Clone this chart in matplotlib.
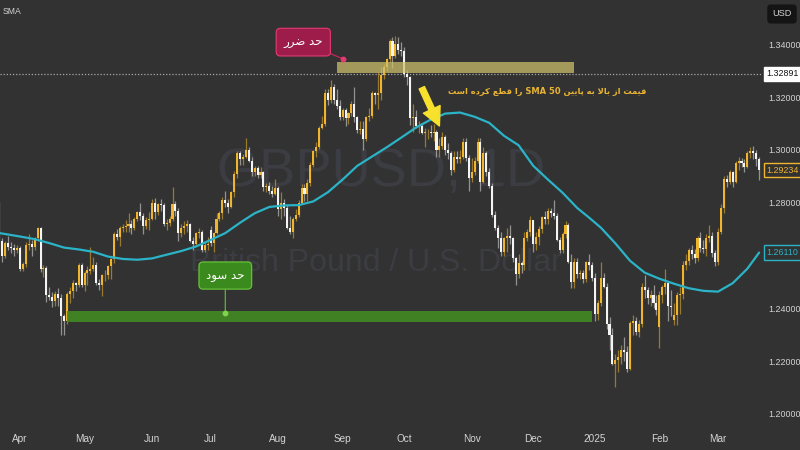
import numpy as np
import pandas as pd
import matplotlib
matplotlib.use("Agg")
import matplotlib.pyplot as plt
from matplotlib.patches import Rectangle
from matplotlib.transforms import blended_transform_factory

# ---------------- data (GBPUSD daily) ----------------
first_day = "2024-03-21"
last_day = "2025-03-21"
closed_days = ["2024-12-25", "2025-01-01"]

opens = [
    1.2735, 1.2655, 1.2598, 1.2646, 1.2633, 1.2627, 1.2622,
    1.2630, 1.2548, 1.2566, 1.2640, 1.2642, 1.2634, 1.2666, 1.2705, 1.2550, 1.2553, 1.2450, 1.2443, 1.2427, 1.2455, 1.2437, 1.2370, 1.2350, 1.2455, 1.2465, 1.2495, 1.2490, 1.2565,
    1.2490, 1.2535, 1.2540, 1.2547, 1.2565, 1.2495, 1.2490, 1.2525, 1.2526, 1.2560, 1.2585, 1.2680, 1.2670, 1.2705, 1.2708, 1.2710, 1.2720, 1.2705, 1.2740, 1.2765, 1.2750, 1.2710, 1.2735,
    1.2740, 1.2800, 1.2765, 1.2795, 1.2790, 1.2720, 1.2725, 1.2740, 1.2795, 1.2770, 1.2685, 1.2705, 1.2710, 1.2720, 1.2655, 1.2645, 1.2685, 1.2690, 1.2620, 1.2640,
    1.2695, 1.2648, 1.2685, 1.2740, 1.2760, 1.2810, 1.2800, 1.2785, 1.2840, 1.2910, 1.2990, 1.2965, 1.2975, 1.3000, 1.2960, 1.2915, 1.2930, 1.2905, 1.2915, 1.2860, 1.2865, 1.2845, 1.2835,
    1.2855, 1.2775, 1.2800, 1.2780, 1.2705, 1.2690, 1.2740, 1.2755, 1.2800, 1.2855, 1.2835, 1.2875, 1.2945, 1.2995, 1.3010, 1.3085, 1.3100, 1.3215, 1.3190, 1.3240, 1.3190, 1.3165,
    1.3125, 1.3150, 1.3120, 1.3140, 1.3175, 1.3125, 1.3075, 1.3080, 1.3040, 1.3125, 1.3128, 1.3215, 1.3210, 1.3215, 1.3285, 1.3315, 1.3345, 1.3415, 1.3355, 1.3400, 1.3380,
    1.3375, 1.3290, 1.3275, 1.3120, 1.3125, 1.3090, 1.3092, 1.3065, 1.3068, 1.3070, 1.3065, 1.3070, 1.3000, 1.3015, 1.3050, 1.3000, 1.2990, 1.2925, 1.2975, 1.2965, 1.2975, 1.3030, 1.2970,
    1.2895, 1.2915, 1.2960, 1.3030, 1.2880, 1.2990, 1.2915, 1.2865, 1.2755, 1.2705, 1.2665, 1.2615, 1.2665, 1.2675, 1.2665, 1.2590, 1.2530, 1.2570, 1.2565, 1.2665, 1.2690,
    1.2735, 1.2645, 1.2670, 1.2700, 1.2745, 1.2740, 1.2770, 1.2760, 1.2750, 1.2660, 1.2620, 1.2680, 1.2715, 1.2575, 1.2500, 1.2575, 1.2530, 1.2532, 1.2510, 1.2575, 1.2565,
    1.2515, 1.2380, 1.2420, 1.2515, 1.2480, 1.2340, 1.2300, 1.2190, 1.2205, 1.2215, 1.2240, 1.2235, 1.2170, 1.2345, 1.2350, 1.2310, 1.2340, 1.2480, 1.2470, 1.2440, 1.2450, 1.2420,
    1.2330, 1.2450, 1.2480, 1.2495, 1.2410, 1.2355, 1.2375, 1.2450, 1.2455, 1.2565, 1.2580, 1.2620, 1.2605, 1.2590, 1.2665, 1.2630, 1.2625, 1.2665, 1.2675, 1.2610,
    1.2575, 1.2690, 1.2780, 1.2890, 1.2880, 1.2915, 1.2880, 1.2950, 1.2960, 1.2950, 1.2935, 1.2990, 1.2995, 1.2990, 1.2965,
]
highs = [
    1.2803, 1.2665, 1.2655, 1.2675, 1.2650, 1.2645, 1.2640,
    1.2635, 1.2575, 1.2651, 1.2683, 1.2660, 1.2672, 1.2709, 1.2709, 1.2565, 1.2562, 1.2482, 1.2460, 1.2465, 1.2475, 1.2455, 1.2380, 1.2460, 1.2480, 1.2509, 1.2500, 1.2570, 1.2570,
    1.2540, 1.2560, 1.2634, 1.2594, 1.2575, 1.2510, 1.2530, 1.2545, 1.2565, 1.2590, 1.2690, 1.2700, 1.2710, 1.2720, 1.2735, 1.2760, 1.2735, 1.2745, 1.2770, 1.2800, 1.2760, 1.2745, 1.2765,
    1.2815, 1.2818, 1.2800, 1.2815, 1.2800, 1.2740, 1.2750, 1.2860, 1.2805, 1.2780, 1.2720, 1.2730, 1.2735, 1.2725, 1.2670, 1.2690, 1.2705, 1.2695, 1.2650, 1.2670,
    1.2710, 1.2690, 1.2760, 1.2770, 1.2820, 1.2845, 1.2815, 1.2845, 1.2920, 1.2995, 1.2995, 1.2985, 1.3044, 1.3010, 1.2975, 1.2940, 1.2940, 1.2935, 1.2920, 1.2875, 1.2880, 1.2865, 1.2890,
    1.2865, 1.2840, 1.2815, 1.2790, 1.2750, 1.2745, 1.2775, 1.2810, 1.2870, 1.2870, 1.2890, 1.2955, 1.3000, 1.3030, 1.3090, 1.3130, 1.3230, 1.3230, 1.3265, 1.3250, 1.3230, 1.3190,
    1.3160, 1.3160, 1.3145, 1.3185, 1.3239, 1.3130, 1.3110, 1.3110, 1.3130, 1.3160, 1.3225, 1.3220, 1.3297, 1.3315, 1.3325, 1.3350, 1.3420, 1.3430, 1.3434, 1.3430, 1.3410,
    1.3390, 1.3305, 1.3280, 1.3175, 1.3150, 1.3110, 1.3100, 1.3085, 1.3080, 1.3095, 1.3100, 1.3075, 1.3045, 1.3070, 1.3055, 1.3025, 1.2995, 1.2995, 1.2995, 1.3000, 1.3045, 1.3045, 1.2980,
    1.2970, 1.2975, 1.3045, 1.3045, 1.3010, 1.2995, 1.2930, 1.2875, 1.2770, 1.2715, 1.2690, 1.2670, 1.2705, 1.2715, 1.2670, 1.2595, 1.2605, 1.2580, 1.2690, 1.2700, 1.2750,
    1.2735, 1.2690, 1.2710, 1.2750, 1.2770, 1.2780, 1.2780, 1.2810, 1.2760, 1.2670, 1.2690, 1.2730, 1.2725, 1.2605, 1.2590, 1.2590, 1.2545, 1.2545, 1.2580, 1.2605, 1.2575,
    1.2535, 1.2430, 1.2575, 1.2535, 1.2495, 1.2365, 1.2325, 1.2225, 1.2240, 1.2260, 1.2290, 1.2255, 1.2350, 1.2375, 1.2365, 1.2355, 1.2495, 1.2525, 1.2480, 1.2470, 1.2490, 1.2450,
    1.2465, 1.2490, 1.2550, 1.2505, 1.2470, 1.2420, 1.2460, 1.2480, 1.2580, 1.2605, 1.2630, 1.2640, 1.2625, 1.2675, 1.2690, 1.2660, 1.2680, 1.2715, 1.2690, 1.2620,
    1.2705, 1.2795, 1.2900, 1.2905, 1.2925, 1.2920, 1.2960, 1.2975, 1.2970, 1.2965, 1.2995, 1.3010, 1.3015, 1.3000, 1.2975,
]
lows = [
    1.2620, 1.2575, 1.2590, 1.2620, 1.2610, 1.2600, 1.2610,
    1.2540, 1.2540, 1.2555, 1.2620, 1.2600, 1.2620, 1.2655, 1.2538, 1.2520, 1.2425, 1.2432, 1.2405, 1.2410, 1.2410, 1.2300, 1.2299, 1.2340, 1.2420, 1.2440, 1.2465, 1.2480, 1.2480,
    1.2465, 1.2490, 1.2530, 1.2540, 1.2490, 1.2470, 1.2445, 1.2505, 1.2510, 1.2510, 1.2570, 1.2660, 1.2635, 1.2690, 1.2690, 1.2690, 1.2680, 1.2695, 1.2730, 1.2735, 1.2680, 1.2700, 1.2695,
    1.2735, 1.2740, 1.2755, 1.2770, 1.2710, 1.2695, 1.2710, 1.2730, 1.2750, 1.2655, 1.2670, 1.2680, 1.2690, 1.2650, 1.2620, 1.2640, 1.2665, 1.2612, 1.2615, 1.2620,
    1.2635, 1.2615, 1.2680, 1.2730, 1.2740, 1.2785, 1.2760, 1.2780, 1.2820, 1.2895, 1.2945, 1.2945, 1.2970, 1.2955, 1.2900, 1.2900, 1.2895, 1.2895, 1.2845, 1.2840, 1.2835, 1.2820, 1.2830,
    1.2750, 1.2740, 1.2750, 1.2700, 1.2680, 1.2665, 1.2730, 1.2745, 1.2795, 1.2805, 1.2805, 1.2865, 1.2935, 1.2975, 1.3005, 1.3080, 1.3090, 1.3170, 1.3180, 1.3175, 1.3155, 1.3115,
    1.3115, 1.3090, 1.3100, 1.3130, 1.3105, 1.3065, 1.3060, 1.3001, 1.3035, 1.3110, 1.3120, 1.3175, 1.3155, 1.3190, 1.3270, 1.3300, 1.3335, 1.3310, 1.3350, 1.3365, 1.3355,
    1.3275, 1.3245, 1.3095, 1.3070, 1.3085, 1.3065, 1.3060, 1.3010, 1.3040, 1.3050, 1.3035, 1.2975, 1.2975, 1.3005, 1.2980, 1.2965, 1.2905, 1.2915, 1.2950, 1.2950, 1.2965, 1.2960, 1.2845,
    1.2880, 1.2905, 1.2950, 1.2845, 1.2875, 1.2900, 1.2855, 1.2745, 1.2695, 1.2630, 1.2600, 1.2600, 1.2615, 1.2645, 1.2575, 1.2487, 1.2515, 1.2535, 1.2545, 1.2655, 1.2675,
    1.2615, 1.2620, 1.2640, 1.2685, 1.2720, 1.2720, 1.2745, 1.2740, 1.2655, 1.2610, 1.2610, 1.2665, 1.2570, 1.2475, 1.2475, 1.2515, 1.2510, 1.2495, 1.2500, 1.2545, 1.2505,
    1.2350, 1.2355, 1.2410, 1.2475, 1.2320, 1.2240, 1.2185, 1.2100, 1.2160, 1.2190, 1.2200, 1.2160, 1.2165, 1.2300, 1.2300, 1.2290, 1.2330, 1.2440, 1.2415, 1.2410, 1.2400, 1.2375,
    1.2250, 1.2420, 1.2455, 1.2350, 1.2370, 1.2335, 1.2335, 1.2380, 1.2435, 1.2545, 1.2565, 1.2585, 1.2570, 1.2580, 1.2615, 1.2610, 1.2600, 1.2650, 1.2595, 1.2560,
    1.2565, 1.2680, 1.2760, 1.2860, 1.2870, 1.2860, 1.2875, 1.2925, 1.2935, 1.2915, 1.2930, 1.2970, 1.2965, 1.2940, 1.2885,
]
closes = [
    1.2655, 1.2598, 1.2646, 1.2633, 1.2627, 1.2622, 1.2630,
    1.2548, 1.2566, 1.2640, 1.2642, 1.2634, 1.2666, 1.2705, 1.2550, 1.2553, 1.2450, 1.2443, 1.2427, 1.2455, 1.2437, 1.2370, 1.2350, 1.2455, 1.2465, 1.2495, 1.2490, 1.2565, 1.2490,
    1.2535, 1.2545, 1.2547, 1.2565, 1.2495, 1.2490, 1.2525, 1.2526, 1.2560, 1.2585, 1.2680, 1.2670, 1.2705, 1.2708, 1.2710, 1.2720, 1.2705, 1.2740, 1.2765, 1.2750, 1.2710, 1.2735, 1.2740,
    1.2800, 1.2765, 1.2795, 1.2790, 1.2720, 1.2725, 1.2740, 1.2795, 1.2770, 1.2685, 1.2705, 1.2710, 1.2720, 1.2655, 1.2645, 1.2685, 1.2690, 1.2620, 1.2640, 1.2645,
    1.2648, 1.2685, 1.2740, 1.2760, 1.2810, 1.2800, 1.2785, 1.2840, 1.2910, 1.2990, 1.2965, 1.2975, 1.3000, 1.2960, 1.2915, 1.2930, 1.2905, 1.2915, 1.2860, 1.2865, 1.2845, 1.2835, 1.2855,
    1.2775, 1.2800, 1.2780, 1.2705, 1.2690, 1.2740, 1.2755, 1.2800, 1.2855, 1.2835, 1.2875, 1.2945, 1.2995, 1.3010, 1.3085, 1.3100, 1.3215, 1.3190, 1.3240, 1.3190, 1.3165, 1.3125,
    1.3150, 1.3120, 1.3140, 1.3175, 1.3125, 1.3075, 1.3080, 1.3040, 1.3125, 1.3128, 1.3215, 1.3210, 1.3215, 1.3285, 1.3315, 1.3345, 1.3415, 1.3355, 1.3400, 1.3380, 1.3375,
    1.3290, 1.3275, 1.3120, 1.3125, 1.3090, 1.3092, 1.3065, 1.3068, 1.3070, 1.3065, 1.3070, 1.3000, 1.3015, 1.3050, 1.3000, 1.2990, 1.2925, 1.2975, 1.2965, 1.2975, 1.3030, 1.2970, 1.2895,
    1.2915, 1.2960, 1.3030, 1.2880, 1.2990, 1.2915, 1.2865, 1.2755, 1.2705, 1.2665, 1.2615, 1.2665, 1.2675, 1.2665, 1.2590, 1.2530, 1.2570, 1.2565, 1.2665, 1.2690, 1.2735,
    1.2645, 1.2670, 1.2700, 1.2745, 1.2740, 1.2770, 1.2760, 1.2750, 1.2660, 1.2620, 1.2680, 1.2715, 1.2575, 1.2500, 1.2575, 1.2530, 1.2532, 1.2510, 1.2575, 1.2565, 1.2515,
    1.2380, 1.2420, 1.2515, 1.2480, 1.2340, 1.2300, 1.2190, 1.2205, 1.2215, 1.2240, 1.2235, 1.2170, 1.2345, 1.2350, 1.2310, 1.2340, 1.2480, 1.2470, 1.2440, 1.2450, 1.2420, 1.2395,
    1.2450, 1.2480, 1.2495, 1.2410, 1.2405, 1.2375, 1.2450, 1.2455, 1.2565, 1.2580, 1.2620, 1.2605, 1.2590, 1.2665, 1.2630, 1.2625, 1.2665, 1.2675, 1.2610, 1.2575,
    1.2690, 1.2780, 1.2890, 1.2880, 1.2915, 1.2880, 1.2950, 1.2960, 1.2950, 1.2935, 1.2990, 1.2995, 1.2990, 1.2965, 1.29234,
]

# SMA 50 (weekly readings)
sma_dates = [
    "2024-03-21", "2024-04-01", "2024-04-08", "2024-04-15", "2024-04-22", "2024-04-29",
    "2024-05-06", "2024-05-13", "2024-05-20", "2024-05-27", "2024-06-03", "2024-06-10",
    "2024-06-17", "2024-06-24", "2024-07-01", "2024-07-08", "2024-07-15", "2024-07-22",
    "2024-07-29", "2024-08-05", "2024-08-12", "2024-08-19", "2024-08-26", "2024-09-02",
    "2024-09-09", "2024-09-16", "2024-09-23", "2024-09-30", "2024-10-07", "2024-10-14",
    "2024-10-21", "2024-10-28", "2024-11-04", "2024-11-11", "2024-11-18", "2024-11-25",
    "2024-12-02", "2024-12-09", "2024-12-16", "2024-12-23", "2024-12-30", "2025-01-06",
    "2025-01-13", "2025-01-20", "2025-01-27", "2025-02-03", "2025-02-10", "2025-02-17",
    "2025-02-24", "2025-03-03", "2025-03-10", "2025-03-17", "2025-03-21",
]
sma_values = [
    1.2685, 1.2672, 1.2662, 1.2647, 1.2630, 1.2623,
    1.2614, 1.2596, 1.2587, 1.2584, 1.2589, 1.2603,
    1.2617, 1.2634, 1.2659, 1.2685, 1.2724, 1.2760,
    1.2784, 1.2790, 1.2791, 1.2805, 1.2840, 1.2888,
    1.2940, 1.2975, 1.3010, 1.3047, 1.3085, 1.3115,
    1.3138, 1.3142, 1.3126, 1.3103, 1.3054, 1.3018,
    1.2940, 1.2888, 1.2838, 1.2780, 1.2744, 1.2706,
    1.2646, 1.2580, 1.2535, 1.2512, 1.2493, 1.2476,
    1.2466, 1.2463, 1.2495, 1.2550, 1.2611,
]

month_labels = ["Apr", "May", "Jun", "Jul", "Aug", "Sep", "Oct", "Nov", "Dec", "2025", "Feb", "Mar"]
ytick_values = [1.20, 1.22, 1.24, 1.28, 1.30, 1.32, 1.34]
last_price = 1.29234
sma_last = 1.26110
stop_line_price = 1.32891

stop_zone = ("2024-08-29", "2024-12-20", 1.32919, 1.33336)
profit_zone = ("2024-04-23", "2024-12-31", 1.23479, 1.23896)

title_text = "GBPUSD, 1D"
subtitle_text = "British Pound / U.S. Dollar"
stop_label = "حد ضرر"
profit_label = "حد سود"
note_text = "قیمت از بالا به پایین SMA 50 را قطع کرده است"

# ---------------- Persian shaping (presentation forms, visual order) ----------------
FORMS = {
    '\u0627': ('\uFE8D', '\uFE8E', None, None),
    '\u0622': ('\uFE81', '\uFE82', None, None),
    '\u0628': ('\uFE8F', '\uFE90', '\uFE91', '\uFE92'),
    '\u067E': ('\uFB56', '\uFB57', '\uFB58', '\uFB59'),
    '\u062A': ('\uFE95', '\uFE96', '\uFE97', '\uFE98'),
    '\u062B': ('\uFE99', '\uFE9A', '\uFE9B', '\uFE9C'),
    '\u062C': ('\uFE9D', '\uFE9E', '\uFE9F', '\uFEA0'),
    '\u0686': ('\uFB7A', '\uFB7B', '\uFB7C', '\uFB7D'),
    '\u062D': ('\uFEA1', '\uFEA2', '\uFEA3', '\uFEA4'),
    '\u062E': ('\uFEA5', '\uFEA6', '\uFEA7', '\uFEA8'),
    '\u062F': ('\uFEA9', '\uFEAA', None, None),
    '\u0630': ('\uFEAB', '\uFEAC', None, None),
    '\u0631': ('\uFEAD', '\uFEAE', None, None),
    '\u0632': ('\uFEAF', '\uFEB0', None, None),
    '\u0698': ('\uFB8A', '\uFB8B', None, None),
    '\u0633': ('\uFEB1', '\uFEB2', '\uFEB3', '\uFEB4'),
    '\u0634': ('\uFEB5', '\uFEB6', '\uFEB7', '\uFEB8'),
    '\u0635': ('\uFEB9', '\uFEBA', '\uFEBB', '\uFEBC'),
    '\u0636': ('\uFEBD', '\uFEBE', '\uFEBF', '\uFEC0'),
    '\u0637': ('\uFEC1', '\uFEC2', '\uFEC3', '\uFEC4'),
    '\u0638': ('\uFEC5', '\uFEC6', '\uFEC7', '\uFEC8'),
    '\u0639': ('\uFEC9', '\uFECA', '\uFECB', '\uFECC'),
    '\u063A': ('\uFECD', '\uFECE', '\uFECF', '\uFED0'),
    '\u0641': ('\uFED1', '\uFED2', '\uFED3', '\uFED4'),
    '\u0642': ('\uFED5', '\uFED6', '\uFED7', '\uFED8'),
    '\u06A9': ('\uFB8E', '\uFB8F', '\uFB90', '\uFB91'),
    '\u06AF': ('\uFB92', '\uFB93', '\uFB94', '\uFB95'),
    '\u0644': ('\uFEDD', '\uFEDE', '\uFEDF', '\uFEE0'),
    '\u0645': ('\uFEE1', '\uFEE2', '\uFEE3', '\uFEE4'),
    '\u0646': ('\uFEE5', '\uFEE6', '\uFEE7', '\uFEE8'),
    '\u0647': ('\uFEE9', '\uFEEA', '\uFEEB', '\uFEEC'),
    '\u0648': ('\uFEED', '\uFEEE', None, None),
    '\u06CC': ('\uFBFC', '\uFBFD', '\uFBFE', '\uFBFF'),
}


def shape_word(word):
    word = word.replace('\u064A', '\u06CC').replace('\u0643', '\u06A9')
    chars = list(word)
    n = len(chars)
    res = []
    i = 0
    while i < n:
        ch = chars[i]
        prev = chars[i - 1] if i > 0 else None
        joins_prev = prev in FORMS and FORMS[prev][2] is not None
        if ch == '\u0644' and i + 1 < n and chars[i + 1] == '\u0627':
            res.append('\uFEFC' if joins_prev else '\uFEFB')
            i += 2
            continue
        f = FORMS.get(ch)
        if f is None:
            res.append(ch)
            i += 1
            continue
        nxt = chars[i + 1] if i + 1 < n else None
        joins_next = f[2] is not None and nxt in FORMS
        if joins_prev and joins_next:
            res.append(f[3])
        elif joins_prev:
            res.append(f[1])
        elif joins_next:
            res.append(f[2])
        else:
            res.append(f[0])
        i += 1
    return ''.join(reversed(res))


def rtl(text):
    runs = []
    for tok in text.split(' '):
        is_ar = any(ch in FORMS or ch in '\u064A\u0643' for ch in tok)
        if not is_ar and runs and not runs[-1][0]:
            runs[-1][1].append(tok)
        else:
            runs.append((is_ar, [tok]))
    out = []
    for is_ar, toks in reversed(runs):
        out.append(shape_word(toks[0]) if is_ar else ' '.join(toks))
    return ' '.join(out)


# ---------------- styling ----------------
BG = "#323232"
UP = "#EFB52D"
DOWN = "#F4F4F4"
SMA_C = "#2BB3C7"
TXT = "#D4D4D4"
LAT = ["Liberation Sans", "DejaVu Sans"]
AR_FONT = ["DejaVu Sans"]
SCALE_FS = 6.4

dates = pd.bdate_range(first_day, last_day)
dates = dates[~dates.isin(pd.to_datetime(closed_days))]
o = np.array(opens)
h = np.array(highs)
l = np.array(lows)
c = np.array(closes)
n = min(len(dates), len(c))
dates = dates[:n]
o, h, l, c = o[:n], h[:n], l[:n], c[:n]
x = np.arange(n)


def pos(d):
    return float(dates.get_indexer([pd.Timestamp(d)], method="nearest")[0])


fig = plt.figure(figsize=(8, 4.5), dpi=100, facecolor=BG)
ax = fig.add_axes([0, 22 / 450, 763 / 800, 428 / 450], facecolor=BG)
for s in ax.spines.values():
    s.set_visible(False)

# watermark
ax.text(0.50, 0.598, title_text, transform=ax.transAxes, ha="center", va="center",
        fontsize=39, color="#3c3d42", family=LAT, zorder=0)
ax.text(0.492, 0.385, subtitle_text, transform=ax.transAxes, ha="center", va="center",
        fontsize=23, color="#3c3d42", family=LAT, zorder=0)

# candles
up = c >= o
body_lo = np.minimum(o, c)
body_h = np.maximum(np.abs(c - o), 0.00012)
ax.vlines(x[up], l[up], h[up], color=UP, alpha=0.55, lw=0.9, zorder=2)
ax.vlines(x[~up], l[~up], h[~up], color=DOWN, alpha=0.5, lw=0.9, zorder=2)
ax.bar(x[up], body_h[up], bottom=body_lo[up], width=0.7, color=UP, linewidth=0, zorder=3)
ax.bar(x[~up], body_h[~up], bottom=body_lo[~up], width=0.7, color=DOWN, linewidth=0, zorder=3)

# SMA 50
sma_pos = [pos(d) for d in sma_dates]
ax.plot(sma_pos, sma_values, color=SMA_C, lw=1.6, zorder=4, solid_capstyle="round")

# zones
x0, x1 = pos(stop_zone[0]), pos(stop_zone[1])
ax.add_patch(Rectangle((x0, stop_zone[2]), x1 - x0, stop_zone[3] - stop_zone[2],
                       facecolor="#CFC26A", alpha=0.72, edgecolor="none", zorder=5))
x0, x1 = pos(profit_zone[0]), pos(profit_zone[1])
ax.add_patch(Rectangle((x0, profit_zone[2]), x1 - x0, profit_zone[3] - profit_zone[2],
                       facecolor="#428A22", alpha=0.9, edgecolor="none", zorder=5))

# dotted price line
ax.axhline(stop_line_price, color="#A8A8A8", lw=0.9, ls=(0, (1, 1.5)), zorder=1)

# stop loss callout
dot_s = (pos("2024-09-02"), 1.3346)
ax.annotate(rtl(stop_label), xy=dot_s, xytext=(pos("2024-08-13") + 0.6, 1.3409),
            ha="center", va="center", color="white", fontsize=8.5, family=AR_FONT, zorder=8,
            bbox=dict(boxstyle="round,pad=0.62,rounding_size=0.35", fc="#9E1C4A", ec="#D8386E", lw=0.9),
            arrowprops=dict(arrowstyle="-", color="#C9245A", lw=0.9, shrinkA=0, shrinkB=0))
ax.plot(*dot_s, marker="o", ms=3.2, color="#E33A70", zorder=9)

# take profit callout
dot_p = (pos("2024-07-08"), 1.2382)
ax.annotate(rtl(profit_label), xy=dot_p, xytext=(dot_p[0], 1.2524),
            ha="center", va="center", color="white", fontsize=8.5, family=AR_FONT, zorder=8,
            bbox=dict(boxstyle="round,pad=0.6,rounding_size=0.35", fc="#3B8A1D", ec="#66C23A", lw=0.9),
            arrowprops=dict(arrowstyle="-", color="#5DB532", lw=0.9, shrinkA=0, shrinkB=0))
ax.plot(*dot_p, marker="o", ms=3.2, color="#7FD24E", zorder=9)

# arrow and note
ax.annotate("", xy=(pos("2024-10-17"), 1.3091), xytext=(pos("2024-10-09"), 1.3236),
            arrowprops=dict(arrowstyle="simple,head_length=1.1,head_width=1.1,tail_width=0.35",
                            color="#F7E12C", mutation_scale=12, shrinkA=0, shrinkB=0), zorder=8)
ax.text(pos("2024-10-22"), 1.3221, rtl(note_text), ha="left", va="center",
        color="#E8B432", fontsize=6.0, fontweight="bold", family=AR_FONT, zorder=8)

# axes / ticks
ax.set_xlim(0.18, 260.33)
ax.set_ylim(1.19460, 1.35687)
month_starts = [pos(g.index.min()) for _, g in pd.Series(1, index=dates).groupby(dates.to_period("M"))]
ax.set_xticks(month_starts[1:1 + len(month_labels)])
ax.set_xticklabels(month_labels)
ax.yaxis.tick_right()
ax.set_yticks(ytick_values)
ax.set_yticklabels([f"{v:.5f}" for v in ytick_values])
ax.tick_params(axis="x", length=0, colors=TXT, labelsize=7.2, pad=4)
ax.tick_params(axis="y", length=0, colors=TXT, labelsize=SCALE_FS, pad=4)
for lab in ax.get_xticklabels() + ax.get_yticklabels():
    lab.set_family(LAT)

# price labels on the scale
tr = blended_transform_factory(ax.transAxes, ax.transData)
ax.text(1.0045, stop_line_price, f"{stop_line_price:.5f}", transform=tr, ha="left", va="center",
        fontsize=SCALE_FS, color="#111111", family=LAT, zorder=10, clip_on=False,
        bbox=dict(boxstyle="square,pad=0.3", fc="white", ec="white"))
ax.text(1.0045, last_price, f"{last_price:.5f}", transform=tr, ha="left", va="center",
        fontsize=SCALE_FS, color="#EFB52D", family=LAT, zorder=10, clip_on=False,
        bbox=dict(boxstyle="square,pad=0.3", fc=BG, ec="#EFB52D", lw=1))
ax.text(1.0045, sma_last, f"{sma_last:.5f}", transform=tr, ha="left", va="center",
        fontsize=SCALE_FS, color=SMA_C, family=LAT, zorder=10, clip_on=False,
        bbox=dict(boxstyle="square,pad=0.3", fc=BG, ec=SMA_C, lw=1))

fig.text(3 / 800, 1 - 12 / 450, "SMA", ha="left", va="center", fontsize=6.2, color=TXT, family=LAT)
fig.text(782 / 800, 1 - 14 / 450, "USD", ha="center", va="center", fontsize=6.6, color=TXT, family=LAT,
         bbox=dict(boxstyle="round,pad=0.55,rounding_size=0.4", fc="#141414", ec="none"))

fig.savefig("out.png", dpi=100, facecolor=BG)
